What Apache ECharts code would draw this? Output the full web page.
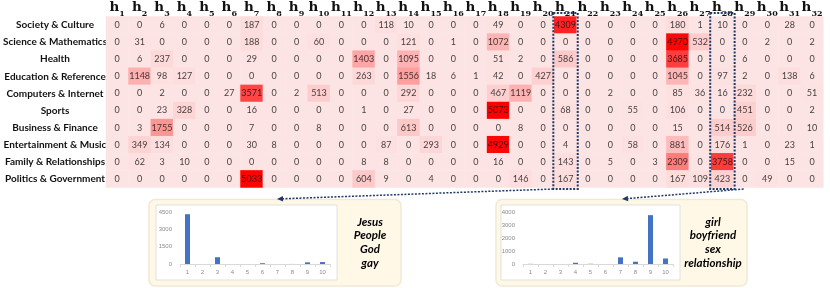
<!DOCTYPE html>
<html><head><meta charset="utf-8">
<script src="https://cdn.jsdelivr.net/npm/echarts@6/dist/echarts.min.js"></script>
<style>html,body{margin:0;padding:0;background:#fff}#c{width:830px;height:288px}</style>
</head><body><div id="c"></div>
<script>
const topicLabels = ['h1','h2','h3','h4','h5','h6','h7','h8','h9','h10','h11','h12','h13','h14','h15','h16',
  'h17','h18','h19','h20','h21','h22','h23','h24','h25','h26','h27','h28','h29','h30','h31','h32'];
const categories = ['Society & Culture','Science & Mathematics','Health','Education & Reference',
  'Computers & Internet','Sports','Business & Finance','Entertainment & Music','Family & Relationships',
  'Politics & Government'];
const societyCulture      = [0,0,6,0,0,0,187,0,0,0,0,0,118,10,0,0,0,49,0,0,4309,0,0,0,0,180,1,10,0,0,28,0];
const scienceMath         = [0,31,0,0,0,0,188,0,0,60,0,0,0,121,0,1,0,1072,0,0,0,0,0,0,0,4970,532,0,0,2,0,2];
const health              = [0,6,237,0,0,0,29,0,0,0,0,1403,0,1095,0,0,0,51,2,0,586,0,0,0,0,3685,0,0,6,0,0,0];
const educationReference  = [0,1148,98,127,0,0,0,0,0,0,0,263,0,1556,18,6,1,42,0,427,0,0,0,0,0,1045,0,97,2,0,138,6];
const computersInternet   = [0,0,2,0,0,27,3571,0,2,513,0,0,0,292,0,0,0,467,1119,0,0,0,2,0,0,85,36,16,232,0,0,51];
const sports              = [0,0,23,328,0,0,16,0,0,0,0,1,0,27,0,0,0,5073,0,0,68,0,0,55,0,106,0,0,451,0,0,2];
const businessFinance     = [0,3,1755,0,0,0,7,0,0,8,0,0,0,613,0,0,0,0,8,0,0,0,0,0,0,15,0,514,526,0,0,10];
const entertainmentMusic  = [0,349,134,0,0,0,30,8,0,0,0,0,87,0,293,0,0,4929,0,0,4,0,0,58,0,881,0,176,1,0,23,1];
const familyRelationships = [0,62,3,10,0,0,0,0,0,0,0,8,8,0,0,0,0,16,0,0,143,0,5,0,3,2309,0,3758,0,0,15,0];
const politicsGovernment  = [0,0,0,0,0,0,5033,0,0,0,0,604,9,0,4,0,0,0,146,0,167,0,0,0,0,167,109,423,0,49,0,0];
const rows = [societyCulture, scienceMath, health, educationReference, computersInternet, sports,
  businessFinance, entertainmentMusic, familyRelationships, politicsGovernment];

const barCats = ['1','2','3','4','5','6','7','8','9','10'];
const h21Values = [4309,0,586,0,0,68,0,4,143,167];
const h28Values = [10,0,0,97,16,0,514,176,3758,423];
const h21Words = ['Jesus','People','God','gay'];
const h28Words = ['girl','boyfriend','sex','relationship'];

const heatData = [];
rows.forEach((r, ri) => r.forEach((v, ci) => heatData.push([ci, ri, v])));

const G = {left: 101.7, top: 16.5, width: 721.6, height: 171};
const navy = '#1f3864';

const smallAxisLabel = {fontSize: 6, color: '#8c8c8c', fontFamily: 'Liberation Sans'};
function smallX(gi) {
  return {type: 'category', gridIndex: gi, data: barCats, z: 10,
    axisLine: {lineStyle: {color: '#d9d9d9', width: 1}},
    axisTick: {show: true, length: 3, lineStyle: {color: '#d9d9d9'}},
    axisLabel: Object.assign({margin: 5}, smallAxisLabel)};
}
function smallY(gi, max, interval) {
  return {type: 'value', gridIndex: gi, min: 0, max: max, interval: interval, z: 10,
    axisLine: {show: false}, axisTick: {show: false}, splitLine: {show: false},
    axisLabel: Object.assign({margin: 8, formatter: v => String(v)}, smallAxisLabel)};
}

const chart = echarts.init(document.getElementById('c'), null, {renderer: 'canvas'});
const option = {
  animation: false,
  backgroundColor: '#fff',
  grid: [
    Object.assign({}, G),
    {left: 180, top: 212, width: 150, height: 52, z: 10},
    {left: 523, top: 212, width: 150, height: 52, z: 10}
  ],
  xAxis: [
    {type: 'category', data: topicLabels, position: 'top', gridIndex: 0,
     axisLine: {show: false}, axisTick: {show: false}, splitLine: {show: false},
     axisLabel: {interval: 0, margin: -1,
       formatter: v => '{h|h}{s|' + v.slice(1) + '}',
       rich: {
         h: {fontFamily: 'DejaVu Serif', fontWeight: 'bold', fontSize: 13.5, color: '#111', verticalAlign: 'bottom', padding: [0,0,3,0]},
         s: {fontFamily: 'DejaVu Serif', fontWeight: 'bold', fontSize: 8, color: '#111', verticalAlign: 'bottom'}
       }}},
    smallX(1), smallX(2)
  ],
  yAxis: [
    {type: 'category', data: categories, inverse: true, gridIndex: 0,
     axisLine: {show: false}, axisTick: {show: false}, splitLine: {show: false},
     axisLabel: {interval: 0, align: 'center', margin: 51, fontFamily: 'Lato', fontWeight: 'bold', fontSize: 10, color: '#111'}},
    smallY(1, 4500, 1500), smallY(2, 4000, 1000)
  ],
  visualMap: {show: false, min: 0, max: 5073, seriesIndex: 0, dimension: 2,
    inRange: {color: ['#fde4e4', '#ff0000']}},
  series: [
    {type: 'heatmap', xAxisIndex: 0, yAxisIndex: 0, data: heatData,
     label: {show: false}, itemStyle: {borderWidth: 0}},
    {type: 'scatter', xAxisIndex: 0, yAxisIndex: 0, data: heatData, z: 5, silent: true,
     symbol: 'rect', symbolSize: 2, itemStyle: {color: 'rgba(0,0,0,0)'},
     label: {show: true, position: ['50%', '50%'], align: 'center', verticalAlign: 'middle',
       formatter: p => String(p.value[2]), fontSize: 9, fontFamily: 'Lato', color: '#111', textBorderWidth: 0}},
    {type: 'bar', xAxisIndex: 1, yAxisIndex: 1, data: h21Values, barWidth: 5, z: 10,
     itemStyle: {color: '#4472c4'}},
    {type: 'bar', xAxisIndex: 2, yAxisIndex: 2, data: h28Values, barWidth: 5, z: 10,
     itemStyle: {color: '#4472c4'}}
  ]
};
chart.setOption(option);

// annotation overlay positioned from the heatmap axes
const c0 = chart.convertToPixel({xAxisIndex: 0, yAxisIndex: 0}, [0, 0]);
const c1 = chart.convertToPixel({xAxisIndex: 0, yAxisIndex: 0}, [1, 0]);
const cw = c1[0] - c0[0];
function colBox(ci) {
  const p = chart.convertToPixel({xAxisIndex: 0, yAxisIndex: 0}, [ci, 0]);
  return {x: p[0] - cw / 2 - 1, y: G.top - 3.5, width: cw + 2, height: G.height + 5};
}
const b21 = colBox(topicLabels.indexOf('h21'));
const b28 = colBox(topicLabels.indexOf('h28'));
const dash = {stroke: navy, lineWidth: 2, lineDash: [2, 1.5], fill: null};
function arrow(x1, y1, x2, y2) {
  const a = Math.atan2(y2 - y1, x2 - x1), L = 6, W = 2.8;
  const bx = x2 - L * Math.cos(a), by = y2 - L * Math.sin(a);
  return [
    {type: 'line', z: 20, shape: {x1: x1, y1: y1, x2: bx, y2: by}, style: Object.assign({}, dash, {lineWidth: 1.5})},
    {type: 'polygon', z: 20, shape: {points: [[x2, y2],
      [bx - W * Math.sin(a), by + W * Math.cos(a)], [bx + W * Math.sin(a), by - W * Math.cos(a)]]},
     style: {fill: navy}}
  ];
}
function panel(x, y, w, h, ix, iw, words, tx) {
  return [
    {type: 'rect', z: 1, shape: {x: x, y: y, width: w, height: h, r: 6}, style: {fill: '#fff8e6', stroke: '#efe9d8', lineWidth: 1.5}},
    {type: 'rect', z: 2, shape: {x: ix, y: y + 5.5, width: iw, height: 75}, style: {fill: '#fff', stroke: '#d9d9d9', lineWidth: 0.8}},
    {type: 'text', z: 20, x: tx, y: 215, style: {text: words.join('\n'), fontFamily: 'Lato', fontStyle: 'italic', fontWeight: 'bold',
      fontSize: 11.5, lineHeight: 13.7, fill: '#000', textAlign: 'center', textVerticalAlign: 'top'}}
  ];
}
chart.setOption({graphic: [].concat(
  panel(149, 199.5, 252, 86.5, 156, 181, h21Words, 370),
  panel(496, 199.5, 251, 86.5, 501, 179, h28Words, 713),
  [{type: 'rect', z: 20, shape: b21, style: dash},
   {type: 'rect', z: 20, shape: b28, style: dash}],
  arrow(b21.x, b21.y + b21.height, 277, 199),
  arrow(b28.x + b28.width + 9, b28.y + b28.height, 622, 199)
)});
</script></body></html>
